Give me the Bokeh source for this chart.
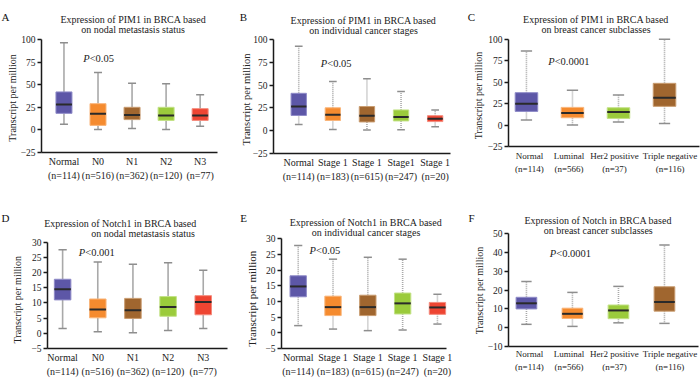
from bokeh.plotting import figure
from bokeh.layouts import row, column
from bokeh.models import Range1d, FixedTicker, Label
from bokeh.embed import file_html
from bokeh.resources import INLINE

FONT = "Liberation Serif"

# ---------------- data ----------------
nodal_cats = ["Normal", "N0", "N1", "N2", "N3"]
nodal_n = [114, 516, 362, 120, 77]
stage_cats_pim1 = ["Normal", "Stage 1", "Stage 1", "Stage1", "Stage 1"]
stage_cats_notch = ["Normal", "Stage 1", "Stage 1", "Stage 1", "Stage 1"]
stage_n = [114, 183, 615, 247, 20]
sub_cats = ["Normal", "Luminal", "Her2 positive", "Triple negative"]
sub_n = [114, 566, 37, 116]

# PIM1 - nodal metastasis (A)
a_max = [96.5, 63.5, 51.5, 51, 39]
a_q3 = [42, 29, 25, 25, 23.5]
a_med = [28, 17.8, 16.5, 16, 16]
a_q1 = [18.3, 5, 11.4, 10.5, 10.5]
a_min = [6.3, 0.5, 1.5, 0.5, 4]

# PIM1 - cancer stages (B)
b_max = [92.7, 54, 57, 43, 22.8]
b_q3 = [41, 25.1, 26.5, 22.8, 16.5]
b_med = [26.5, 17.4, 16.5, 15, 13.2]
b_q1 = [16.7, 11.2, 9.6, 10.7, 10]
b_min = [6.8, 1.3, 0.7, 1, 4.4]

# PIM1 - subclasses (C)
c_max = [86.7, 40.6, 35.2, 100.4]
c_q3 = [37.9, 20.7, 20.3, 48.8]
c_med = [25, 14, 15.2, 32]
c_q1 = [16, 8.6, 7.8, 21.9]
c_min = [5.9, 0, 3.5, 2]

# Notch1 - nodal metastasis (D)
d_max = [27.5, 23.5, 22.7, 23.2, 20.8]
d_q3 = [17.8, 11.3, 11.5, 12.1, 12.4]
d_med = [14.5, 7.8, 7.6, 8.7, 10.3]
d_q1 = [11, 5.1, 4.9, 5.6, 6.1]
d_min = [1.6, 0.5, 0.2, 0.9, 1.6]

# Notch1 - cancer stages (E)
e_max = [27.9, 23.5, 24.1, 23.5, 12.3]
e_q3 = [18.2, 11.7, 12, 12.7, 9.7]
e_med = [14.8, 8.2, 8.2, 9.4, 8.1]
e_q1 = [11.5, 5.5, 5.5, 6, 5.9]
e_min = [2.3, 1.2, 0.7, 0.9, 2.8]

# Notch - subclasses (F)
f_max = [24.6, 18.8, 22, 44]
f_q3 = [16.2, 10.4, 12.1, 21.8]
f_med = [13, 7.4, 9.2, 13.7]
f_q1 = [10, 4.9, 4.8, 8.8]
f_min = [1.8, 0.7, 2.6, 2.3]

ticks_pim1 = [-25, 0, 25, 50, 75, 100]
ticks_notch1 = [-5, 0, 5, 10, 15, 20, 25, 30]
ticks_notch = [-10, 0, 10, 20, 30, 40, 50]

# ---------------- styling / layout ----------------
PURPLE = ("#5d57a7", "#8f8bc8")
ORANGE = ("#f58b2f", "#f9b57a")
BROWN = ("#a0662f", "#c99c70")
GREEN = ("#9bcb3c", "#c3e287")
RED = ("#ee4532", "#f48b7d")
five_colors = [PURPLE, ORANGE, BROWN, GREEN, RED]
four_colors = [PURPLE, ORANGE, GREEN, BROWN]

COL_X = [0, 233, 466]
COL_W = [233, 233, 234]
ROW_Y = [0, 190]
ROW_H = [190, 192]

# pixel nudges for the crowded subclass labels (layout only)
SUB_SHIFT = [3, -3.5, -4, 5.5]

panels = [
    dict(cats=nodal_cats, n=nodal_n, mx=a_max, q3=a_q3, med=a_med, q1=a_q1, mn=a_min,
         yr=(-25, 100), ticks=ticks_pim1, xr=(-0.66, 4.51), ref=(41, 217, 39, 152),
         bw=0.47, dotted=False, colors=five_colors, letter="A", lpos=(5, 16),
         title=["Expression of PIM1 in BRCA based", "on nodal metastasis status"],
         tpos=[(132.8, 19.3), (132.5, 29.3)], p="<0.05", ppos=(82.7, 58.3),
         ylab=(12, 97.5, "10px"), xfs="10px"),
    dict(cats=stage_cats_pim1, n=stage_n, mx=b_max, q3=b_q3, med=b_med, q1=b_q1, mn=b_min,
         yr=(-25, 100), ticks=ticks_pim1, xr=(-0.74, 4.45), ref=(273, 450, 39, 153),
         bw=0.45, dotted=True, colors=five_colors, letter="B", lpos=(243, 16),
         title=["Expression of PIM1 in BRCA based", "on individual cancer stages"],
         tpos=[(363, 20), (363, 30.3)], p="<0.05", ppos=(320.3, 62.7),
         ylab=(246.3, 99, "10.5px"), xfs="10px"),
    dict(cats=sub_cats, n=sub_n, mx=c_max, q3=c_q3, med=c_med, q1=c_q1, mn=c_min,
         yr=(-25, 100), ticks=ticks_pim1, xr=(-0.39, 3.76), ref=(508, 699, 39, 146),
         bw=0.49, dotted=True, colors=four_colors, letter="C", lpos=(471, 16),
         title=["Expression of PIM1 in BRCA based", "on breast cancer subclasses"],
         tpos=[(595.5, 19.3), (595.5, 29.3)], p="<0.0001", ppos=(547.7, 61),
         ylab=(477.7, 95, "10px"), xfs="9px", xlab=(155, 168.3)),
    dict(cats=nodal_cats, n=nodal_n, mx=d_max, q3=d_q3, med=d_med, q1=d_q1, mn=d_min,
         yr=(-5, 30), ticks=ticks_notch1, xr=(-0.43, 4.69), ref=(47, 227, 241.7, 348),
         bw=0.47, dotted=False, colors=five_colors, letter="D", lpos=(5, 217),
         title=["Expression of Notch1 in BRCA based", "on nodal metastasis status"],
         tpos=[(120, 223.3), (142.5, 233.3)], p="<0.001", ppos=(78.3, 251.7),
         ylab=(16.7, 299.2, "10px"), xfs="10px"),
    dict(cats=stage_cats_notch, n=stage_n, mx=e_max, q3=e_q3, med=e_med, q1=e_q1, mn=e_min,
         yr=(-5, 30), ticks=ticks_notch1, xr=(-0.48, 4.26), ref=(281, 446, 238.3, 348),
         bw=0.47, dotted=True, colors=five_colors, letter="E", lpos=(243, 217),
         title=["Expression of Notch1 in BRCA based", "on individual cancer stages"],
         tpos=[(365.5, 222.3), (365.5, 232.3)], p="<0.05", ppos=(309, 250),
         ylab=(251.3, 298.3, "11px"), xfs="10px"),
    dict(cats=sub_cats, n=sub_n, mx=f_max, q3=f_q3, med=f_med, q1=f_q1, mn=f_min,
         yr=(-10, 50), ticks=ticks_notch, xr=(-0.39, 3.74), ref=(508, 698, 233.3, 346),
         bw=0.45, dotted=True, colors=four_colors, letter="F", lpos=(471, 217),
         title=["Expression of Notch in BRCA based", "on breast cancer subclasses"],
         tpos=[(597.7, 220.3), (597.7, 230.3)], p="<0.0001", ppos=(549.3, 252.7),
         ylab=(479.3, 290, "10px"), xfs="9px", xlab=(353.3, 366.7)),
]


def make(spec, col, rowi):
    l, r, t, b = spec["ref"]
    ox, oy = COL_X[col], ROW_Y[rowi]
    W, H = COL_W[col], ROW_H[rowi]
    xs, xe = spec["xr"]
    ylo, yhi = spec["yr"]
    kx = (xe - xs) / (r - l)
    ky = (yhi - ylo) / (b - t)
    # whole figure is the frame; axes sit at fixed locations inside it
    fx0 = xs - (l - ox) * kx
    fx1 = xe + (ox + W - r) * kx
    fy1 = yhi + (t - oy) * ky
    fy0 = ylo - (oy + H - b) * ky

    p = figure(width=W, height=H, x_range=Range1d(fx0, fx1), y_range=Range1d(fy0, fy1),
               min_border=0, min_border_left=0, min_border_right=0, min_border_top=0,
               min_border_bottom=0, output_backend="svg", toolbar_location=None,
               title=None)
    p.outline_line_color = None
    p.xgrid.visible = False
    p.ygrid.visible = False
    p.background_fill_color = "white"
    p.border_fill_color = "white"

    def to_data(X, Y):
        return fx0 + (X - ox) * kx, fy1 - (Y - oy) * ky

    cats = spec["cats"]
    xsx = list(range(len(cats)))
    bw = spec["bw"]
    cw = bw * 0.5
    whisk_col = "#a9a9a9"
    dash = "1 1" if spec["dotted"] else "solid"
    # whiskers
    p.segment(x0=xsx, y0=spec["q3"], x1=xsx, y1=spec["mx"], line_color=whisk_col,
              line_width=1.6, line_dash=dash)
    p.segment(x0=xsx, y0=spec["q1"], x1=xsx, y1=spec["mn"], line_color=whisk_col,
              line_width=1.6, line_dash=dash)
    # caps
    p.segment(x0=[x - cw / 2 for x in xsx], y0=spec["mx"], x1=[x + cw / 2 for x in xsx],
              y1=spec["mx"], line_color="#8e8e8e", line_width=1.5)
    p.segment(x0=[x - cw / 2 for x in xsx], y0=spec["mn"], x1=[x + cw / 2 for x in xsx],
              y1=spec["mn"], line_color="#8e8e8e", line_width=1.5)
    # boxes
    fills = [c[0] for c in spec["colors"]]
    lines = [c[1] for c in spec["colors"]]
    p.vbar(x=xsx, width=bw, top=spec["q3"], bottom=spec["q1"], fill_color=fills,
           line_color=lines, line_width=1)
    # medians
    p.segment(x0=[x - bw / 2 for x in xsx], y0=spec["med"], x1=[x + bw / 2 for x in xsx],
              y1=spec["med"], line_color="#2a2a2a", line_width=2)

    # axes
    ya = p.yaxis[0]
    ya.fixed_location = xs
    ya.bounds = (ylo, yhi)
    ya.ticker = FixedTicker(ticks=spec["ticks"])
    ya.major_label_text_font = FONT
    ya.major_label_text_font_size = "9.5px"
    ya.major_label_text_color = "#222222"
    ya.major_label_standoff = 2
    ya.major_tick_out = 4
    ya.major_tick_in = 0
    ya.major_tick_line_width = 1.5
    ya.minor_tick_line_color = None
    ya.axis_line_width = 1.5
    ya.axis_line_color = "#1a1a1a"
    ya.major_tick_line_color = "#1a1a1a"

    xa = p.xaxis[0]
    xa.fixed_location = ylo
    xa.bounds = (xs, xe)
    xa.major_label_text_font = FONT
    xa.major_label_text_font_size = spec["xfs"]
    xa.major_label_text_line_height = 1.3
    xa.major_label_text_color = "#222222"
    xa.major_label_standoff = 3
    xa.major_tick_out = 0
    xa.major_tick_in = 0
    xa.major_tick_line_color = None
    xa.minor_tick_line_color = None
    xa.axis_line_width = 1.5
    xa.axis_line_color = "#1a1a1a"

    if "xlab" in spec:
        # crowded category names: written as labels with small pixel nudges
        xa.ticker = FixedTicker(ticks=[])
        y1, y2 = spec["xlab"]
        for i, (c, n) in enumerate(zip(cats, spec["n"])):
            for txt, Y in ((c, y1), (f"(n={n})", y2)):
                _, yd = to_data(0, Y)
                p.add_layout(Label(x=i, y=yd, x_offset=SUB_SHIFT[i], text=txt,
                                   text_align="center", text_baseline="middle",
                                   text_font=FONT, text_font_size=spec["xfs"],
                                   text_color="#222222"))
    else:
        xa.ticker = FixedTicker(ticks=xsx)
        xa.major_label_overrides = {i: f"{c}\n(n={n})"
                                    for i, (c, n) in enumerate(zip(cats, spec["n"]))}

    # y axis title (rotated)
    X, Y, fs = spec["ylab"]
    xd, yd = to_data(X, Y)
    p.add_layout(Label(x=xd, y=yd, text="Transcript per million", angle=90, angle_units="deg",
                       text_align="center", text_baseline="middle", text_font=FONT,
                       text_font_size=fs, text_color="#222222"))
    # title lines
    for txt, (X, Y) in zip(spec["title"], spec["tpos"]):
        xd, yd = to_data(X, Y)
        p.add_layout(Label(x=xd, y=yd, text=txt, text_align="center", text_baseline="middle",
                           text_font=FONT, text_font_size="10px", text_color="#222222"))
    # panel letter
    xd, yd = to_data(*spec["lpos"])
    p.add_layout(Label(x=xd, y=yd, text=spec["letter"], text_align="center",
                       text_baseline="middle", text_font=FONT, text_font_size="11px",
                       text_color="#111111"))
    # p value
    xd, yd = to_data(*spec["ppos"])
    p.add_layout(Label(x=xd, y=yd, text="P", text_align="left", text_baseline="middle",
                       text_font=FONT, text_font_size="10.5px", text_font_style="italic",
                       text_color="#222222"))
    p.add_layout(Label(x=xd, y=yd, x_offset=6.5, text=spec["p"], text_align="left",
                       text_baseline="middle", text_font=FONT, text_font_size="10.5px",
                       text_color="#222222"))
    return p


figs = [make(s, i % 3, i // 3) for i, s in enumerate(panels)]
layout = column(row(*figs[:3], spacing=0), row(*figs[3:], spacing=0), spacing=0)

open("out.html", "w").write(file_html(layout, INLINE))
